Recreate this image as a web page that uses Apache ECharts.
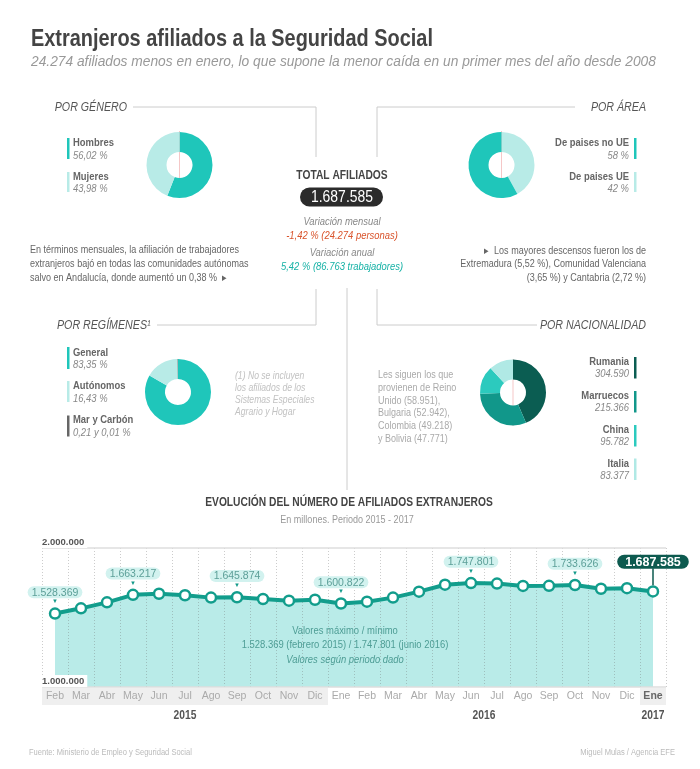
<!DOCTYPE html>
<html>
<head>
<meta charset="utf-8">
<script src="https://cdn.jsdelivr.net/npm/echarts@6/dist/echarts.min.js"></script>
<style>
html,body{margin:0;padding:0;background:#fff;}
#c{width:700px;height:769px;}
</style>
</head>
<body>
<div id="c"></div>
<script>
// ---------------- DATA ----------------
const genderLabels = ['Hombres', 'Mujeres'];
const genderValues = [56.02, 43.98];
const areaLabels = ['De paises no UE', 'De paises UE'];
const areaValues = [58, 42];
const regimeLabels = ['General', 'Autónomos', 'Mar', 'Carbón'];
const regimeValues = [83.35, 16.43, 0.21, 0.01];
const nationLabels = ['Rumania', 'Marruecos', 'China', 'Italia'];
const nationValues = [304590, 215366, 95782, 83377];
const months = ['Feb','Mar','Abr','May','Jun','Jul','Ago','Sep','Oct','Nov','Dic',
                'Ene','Feb','Mar','Abr','May','Jun','Jul','Ago','Sep','Oct','Nov','Dic','Ene'];
const monthYears = [2015,2015,2015,2015,2015,2015,2015,2015,2015,2015,2015,
                    2016,2016,2016,2016,2016,2016,2016,2016,2016,2016,2016,2016,2017];
const affiliates = [1528369, 1566000, 1609000, 1663217, 1671000, 1660000, 1643000, 1645874, 1633000, 1621000, 1628000,
                    1600822, 1614000, 1643000, 1686000, 1736000, 1747801, 1744000, 1727000, 1728000, 1733626, 1707000, 1711000, 1687585];
const calloutIdx = [0, 3, 7, 11, 16, 20];
const yTicks = [1000000, 2000000];

// ---------------- HELPERS ----------------
const FONT = '"Liberation Sans", Arial, sans-serif';
const NARROW = 0.82;
const TEAL = '#1fc6ba', LIGHT = '#b8ebe7', GREY = '#666';
const fmtNum = v => String(v).replace(/\B(?=(\d{3})+(?!\d))/g, '.');
const fmtPct = v => v.toFixed(2).replace('.', ',') + ' %';

function txt(text, x, y, size, o) {
  o = o || {};
  return { type: 'text', silent: true, z: 10, x: x, y: y, scaleX: (o.sx != null ? o.sx : NARROW),
    style: { text: text, x: 0, y: 0, fill: o.color || '#666',
      font: (o.italic ? 'italic ' : '') + (o.bold ? 'bold ' : '') + size + 'px ' + FONT,
      textAlign: o.align || 'left', textVerticalAlign: 'middle' } };
}
function ln(x1, y1, x2, y2, color, w) {
  return { type: 'line', silent: true, shape: { x1: x1, y1: y1, x2: x2, y2: y2 },
    style: { stroke: color || '#ccc', lineWidth: w || 1 } };
}
function bar(x, y, h, color) {
  return { type: 'rect', silent: true, shape: { x: x, y: y, width: 2.5, height: h }, style: { fill: color } };
}

// ---------------- STATIC GRAPHICS ----------------
const G = [];
G.push(txt('Extranjeros afiliados a la Seguridad Social', 31, 39, 24.3, { bold: true, color: '#444' }));
G.push(txt('24.274 afiliados menos en enero, lo que supone la menor caída en un primer mes del año desde 2008', 31, 62, 14.5, { italic: true, color: '#999', sx: 0.95 }));

// frame lines
G.push(ln(133, 107, 316, 107), ln(316, 107, 316, 157));
G.push(ln(377, 107, 575, 107), ln(377, 107, 377, 157));
G.push(ln(316, 289, 316, 325), ln(157, 325, 316, 325));
G.push(ln(377, 289, 377, 325), ln(377, 325, 537, 325));
G.push(ln(347, 288, 347, 490));

// section titles
G.push(txt('POR GÉNERO', 127, 107, 13, { italic: true, color: '#555', align: 'right' }));
G.push(txt('POR ÁREA', 646, 107, 13, { italic: true, color: '#555', align: 'right' }));
G.push(txt('POR REGÍMENES¹', 57, 325, 13, { italic: true, color: '#555' }));
G.push(txt('POR NACIONALIDAD', 646, 325, 13, { italic: true, color: '#555', align: 'right' }));

// gender legend
G.push(bar(67, 138, 21, TEAL), txt(genderLabels[0], 73, 143, 11.5, { bold: true }), txt(fmtPct(genderValues[0]), 73, 155.5, 11.5, { italic: true, color: '#888' }));
G.push(bar(67, 172, 20, LIGHT), txt(genderLabels[1], 73, 176.5, 11.5, { bold: true }), txt(fmtPct(genderValues[1]), 73, 188.5, 11.5, { italic: true, color: '#888' }));

// area legend
G.push(bar(634, 138, 21, TEAL), txt(areaLabels[0], 629, 143, 11.5, { bold: true, align: 'right' }), txt(areaValues[0] + ' %', 629, 155.5, 11.5, { italic: true, color: '#888', align: 'right' }));
G.push(bar(634, 172, 20, LIGHT), txt(areaLabels[1], 629, 176.5, 11.5, { bold: true, align: 'right' }), txt(areaValues[1] + ' %', 629, 188.5, 11.5, { italic: true, color: '#888', align: 'right' }));

// total block
G.push(txt('TOTAL AFILIADOS', 342, 176, 12.5, { bold: true, color: '#444', align: 'center' }));
G.push({ type: 'rect', silent: true, shape: { x: 300, y: 187.5, width: 83, height: 19, r: 9.5 }, style: { fill: '#2b2b2b' } });
G.push(txt('1.687.585', 342, 197.5, 17, { color: '#fff', align: 'center' }));
G.push(txt('Variación mensual', 342, 221.5, 11.5, { italic: true, color: '#888', align: 'center' }));
G.push(txt('-1,42 % (24.274 personas)', 342, 236, 11.5, { italic: true, color: '#d9542c', align: 'center' }));
G.push(txt('Variación anual', 342, 253, 11.5, { italic: true, color: '#888', align: 'center' }));
G.push(txt('5,42 % (86.763 trabajadores)', 342, 267, 11.5, { italic: true, color: '#17b2a6', align: 'center' }));

// paragraphs
G.push(txt('En términos mensuales, la afiliación de trabajadores', 30, 250, 11, { color: '#666' }));
G.push(txt('extranjeros bajó en todas las comunidades autónomas', 30, 263.5, 11, { color: '#666' }));
G.push(txt('salvo en Andalucía, donde aumentó un 0,38 %  ▸', 30, 277.5, 11, { color: '#666' }));
G.push(txt('▸  Los mayores descensos fueron los de', 646, 250.5, 11, { color: '#666', align: 'right' }));
G.push(txt('Extremadura (5,52 %), Comunidad Valenciana', 646, 264, 11, { color: '#666', align: 'right' }));
G.push(txt('(3,65 %) y Cantabria (2,72 %)', 646, 277.5, 11, { color: '#666', align: 'right' }));

// regimes legend
G.push(bar(67, 347, 22, TEAL), txt(regimeLabels[0], 73, 352.5, 11.5, { bold: true }), txt(fmtPct(regimeValues[0]), 73, 365, 11.5, { italic: true, color: '#888' }));
G.push(bar(67, 381, 21, LIGHT), txt(regimeLabels[1], 73, 386, 11.5, { bold: true }), txt(fmtPct(regimeValues[1]), 73, 399, 11.5, { italic: true, color: '#888' }));
G.push(bar(67, 415.5, 21, GREY), txt(regimeLabels[2] + ' y ' + regimeLabels[3], 73, 420, 11.5, { bold: true }),
  txt(String(regimeValues[2]).replace('.', ',') + ' y ' + String(regimeValues[3]).replace('.', ',') + ' %', 73, 433, 11.5, { italic: true, color: '#888' }));
['(1) No se incluyen', 'los afiliados de los', 'Sistemas Especiales', 'Agrario y Hogar']
  .forEach((s, i) => G.push(txt(s, 235, [376, 388, 400, 412][i], 10.5, { italic: true, color: '#c2c2c2' })));

// nationality
const NAT_COLORS = ['#0b5d52', '#11978a', '#2ccabe', '#b0e9e5'];
const natY = [357, 391, 425, 458.5];
nationLabels.forEach((n, i) => {
  G.push(bar(634, natY[i], 21.5, NAT_COLORS[i]));
  G.push(txt(n, 629, natY[i] + 5, 11.5, { bold: true, align: 'right' }));
  G.push(txt(fmtNum(nationValues[i]), 629, natY[i] + 17, 11.5, { italic: true, color: '#888', align: 'right' }));
});
['Les siguen los que', 'provienen de Reino', 'Unido (58.951),', 'Bulgaria (52.942),', 'Colombia (49.218)', 'y Bolivia (47.771)']
  .forEach((s, i) => G.push(txt(s, 378, [375, 388, 400.5, 413, 426, 438.5][i], 11, { color: '#aaa' })));

// chart titles
G.push(txt('EVOLUCIÓN DEL NÚMERO DE AFILIADOS EXTRANJEROS', 349, 503, 12.5, { bold: true, color: '#444', align: 'center' }));
G.push(txt('En millones. Periodo 2015 - 2017', 347, 519.5, 11, { color: '#999', align: 'center' }));

// center-markers on donuts
G.push(ln(179.5, 131, 179.5, 198, '#f2b9b9', 0.8));
G.push(ln(501.5, 131, 501.5, 198, '#f2b9b9', 0.8));
G.push(ln(513, 359, 513, 426, '#f2b9b9', 0.8));

// footer
G.push(txt('Fuente: Ministerio de Empleo y Seguridad Social', 29, 752, 9.2, { color: '#bbb' }));
G.push(txt('Miguel Mulas / Agencia EFE', 675, 752, 9.2, { color: '#bbb', align: 'right' }));

// min / max
let minI = 0, maxI = 0;
affiliates.forEach((v, i) => { if (v < affiliates[minI]) minI = i; if (v > affiliates[maxI]) maxI = i; });
const mesLargo = { Ene: 'enero', Feb: 'febrero', Mar: 'marzo', Abr: 'abril', May: 'mayo', Jun: 'junio', Jul: 'julio', Ago: 'agosto', Sep: 'septiembre', Oct: 'octubre', Nov: 'noviembre', Dic: 'diciembre' };

// ---------------- CHART ----------------
const chart = echarts.init(document.getElementById('c'), null, { renderer: 'canvas' });

function donut(center, data, colors) {
  return {
    type: 'pie', center: center, radius: [13, 33], startAngle: 90, clockwise: true,
    silent: true, label: { show: false }, labelLine: { show: false }, animation: false,
    emphasis: { disabled: true },
    data: data.map((d, i) => ({ name: d.name, value: d.value, itemStyle: { color: colors[i] } }))
  };
}

const lineData = affiliates.map((v, i) => {
  if (i === affiliates.length - 1) {
    return { value: v, label: { show: true, position: 'top', distance: 0,
      formatter: '{b|' + fmtNum(v) + '}\n{l| }',
      rich: {
        b: { backgroundColor: '#0d5a4f', color: '#fff', fontWeight: 'bold', fontSize: 12.5, fontFamily: FONT, padding: [1, 8, 0, 8], borderRadius: 8, lineHeight: 13 },
        l: { backgroundColor: '#0d5a4f', width: 1.5, height: 17, lineHeight: 17, fontSize: 1 }
      } } };
  }
  if (calloutIdx.indexOf(i) >= 0) {
    return { value: v, label: { show: true, position: 'top', distance: 2,
      formatter: '{b|' + fmtNum(v) + '}\n{t|▼}',
      rich: {
        b: { backgroundColor: '#d2f2ef', color: '#5c9f98', fontSize: 10.5, fontFamily: FONT, padding: [1, 4, 0, 4], borderRadius: 7, lineHeight: 12 },
        t: { color: '#149a8a', fontSize: 6, lineHeight: 7 }
      } } };
  }
  return v;
});

const option = {
  animation: false,
  textStyle: { fontFamily: FONT },
  grid: { left: 42, right: 34, top: 548, bottom: 82 },
  xAxis: {
    type: 'category', data: months, boundaryGap: true, z: 3,
    axisLine: { show: false }, axisTick: { show: false },
    splitLine: { show: true, lineStyle: { color: 'rgba(110,110,110,0.35)', type: [1, 2], width: 1 } },
    axisLabel: { interval: 0, margin: 1,
      formatter: (val, idx) => (monthYears[idx] === 2016 ? '{w|' : (idx === months.length - 1 ? '{e|' : '{g|')) + val + '}',
      rich: {
        g: { backgroundColor: '#efefef', width: 26, height: 17, lineHeight: 17, align: 'center', color: '#aaa', fontSize: 10.5, fontFamily: FONT },
        w: { width: 26, height: 17, lineHeight: 17, align: 'center', color: '#aaa', fontSize: 10.5, fontFamily: FONT },
        e: { backgroundColor: '#efefef', width: 26, height: 17, lineHeight: 17, align: 'center', color: '#666', fontWeight: 'bold', fontSize: 10.5, fontFamily: FONT }
      } }
  },
  yAxis: {
    type: 'value', min: yTicks[0], max: yTicks[1], interval: yTicks[1] - yTicks[0], z: 6,
    axisLine: { show: false }, axisTick: { show: false },
    splitLine: { show: true, lineStyle: { color: '#dedede', width: 1.5 } },
    axisLabel: { inside: true, margin: 0, verticalAlign: 'bottom', color: '#555', fontWeight: 'bold', fontSize: 9.5,
      fontFamily: FONT, backgroundColor: '#fff', padding: [1, 3, 1, 0],
      formatter: v => fmtNum(v) }
  },
  series: [
    {
      type: 'line', data: affiliates, z: 1, symbol: 'none',
      lineStyle: { width: 0 }, areaStyle: { color: '#b9ebe8', opacity: 1 },
      emphasis: { disabled: true }, silent: true
    },
    {
      type: 'line', data: lineData, z: 5,
      symbol: 'circle', symbolSize: 10, showAllSymbol: true,
      lineStyle: { color: '#129d8c', width: 4 },
      itemStyle: { color: '#fff', borderColor: '#129d8c', borderWidth: 2.5 },
      emphasis: { disabled: true }, silent: true
    },
    donut([179.5, 165], genderLabels.map((n, i) => ({ name: n, value: genderValues[i] })), [TEAL, LIGHT]),
    donut([501.5, 165], [{ name: areaLabels[1], value: areaValues[1] }, { name: areaLabels[0], value: areaValues[0] }], [LIGHT, TEAL]),
    donut([178, 392], regimeLabels.map((n, i) => ({ name: n, value: regimeValues[i] })), [TEAL, LIGHT, GREY, '#444']),
    donut([513, 392.5], nationLabels.map((n, i) => ({ name: n, value: nationValues[i] })), NAT_COLORS)
  ],
  graphic: { elements: G }
};
chart.setOption(option);

// positions derived from the axes
const px = i => chart.convertToPixel({ gridIndex: 0 }, [i, yTicks[0]]);
const extra = [];
[2015, 2016, 2017].forEach(y => {
  const idx = monthYears.map((m, i) => m === y ? i : -1).filter(i => i >= 0);
  const x = (px(idx[0])[0] + px(idx[idx.length - 1])[0]) / 2;
  extra.push(txt(String(y), x, 716, 12.5, { bold: true, color: '#555', align: 'center' }));
});
const cx = (px(0)[0] + px(months.length - 1)[0]) / 2 - 9;
const tc = '#4e9d95';
extra.push(txt('Valores máximo / mínimo', cx, 631, 11.5, { color: tc, align: 'center' }));
extra.push(txt(fmtNum(affiliates[minI]) + ' (' + mesLargo[months[minI]] + ' ' + monthYears[minI] + ') / ' +
  fmtNum(affiliates[maxI]) + ' (' + mesLargo[months[maxI]] + ' ' + monthYears[maxI] + ')', cx, 645, 11.5, { color: tc, align: 'center' }));
extra.push(txt('Valores según periodo dado', cx, 659.5, 11.5, { italic: true, color: tc, align: 'center' }));
chart.setOption({ graphic: { elements: G.concat(extra) } });
</script>
</body>
</html>
